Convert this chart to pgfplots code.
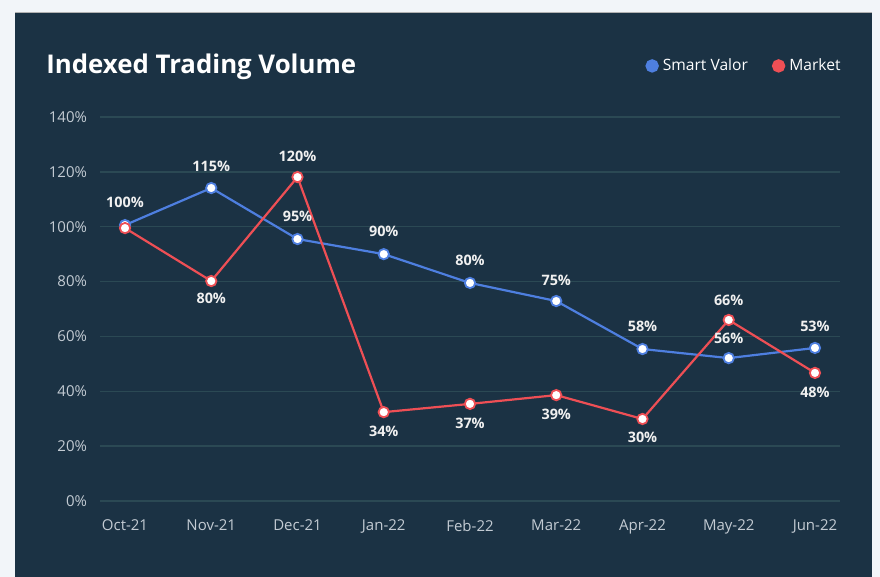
\documentclass[border=0pt]{standalone}
\usepackage{fontspec}
\setmainfont{Open Sans}
\usepackage{pgfplots}
\pgfplotsset{compat=1.18}
\definecolor{outerbg}{HTML}{F2F5F9}
\definecolor{panel}{HTML}{1B3244}
\definecolor{gridc}{HTML}{2B4954}
\definecolor{tickc}{HTML}{C3CBD3}
\definecolor{sv}{HTML}{4E7FE0}
\definecolor{mk}{HTML}{EE4F55}
\tikzset{lab/.style={text=white!94!black, font=\bfseries\fontsize{7.2}{9}\selectfont, anchor=center, inner sep=0pt}}
\begin{document}
\begin{tikzpicture}[x=1pt,y=1pt]
\fill[outerbg] (0,0) rectangle (440,288.5);
\useasboundingbox (0,0) rectangle (440,288.5);
\fill[panel] (7.5,0) rectangle (436,282.5);
\draw[gray!60, line width=0.4pt] (7.5,282.5) -- (436,282.5);
\node[anchor=base west, text=white, inner sep=0pt, font=\bfseries\fontsize{12.9}{15}\selectfont] at (23,251.5) {Indexed Trading Volume};
\begin{axis}[
  at={(50pt,38pt)}, anchor=south west,
  width=370pt, height=192pt, scale only axis,
  xmin=-0.29, xmax=8.29, ymin=0, ymax=140,
  axis line style={draw=none},
  major tick length=0pt,
  ymajorgrids, grid style={gridc, line width=0.7pt},
  xtick={0,...,8},
  xticklabels={Oct-21,Nov-21,Dec-21,Jan-22,Feb-22,Mar-22,Apr-22,May-22,Jun-22},
  ytick={0,20,...,140},
  yticklabels={0\%,20\%,40\%,60\%,80\%,100\%,120\%,140\%},
  tick label style={text=tickc, font=\fontsize{7.5}{9}\selectfont},
  xticklabel style={yshift=-6pt},
  yticklabel style={xshift=-3pt},
  clip=false,
  legend style={at={(1,1.133)}, anchor=east, xshift=2.5pt, draw=none, fill=none, text=white,
    font=\fontsize{7.8}{9}\selectfont, inner sep=0pt,
    /tikz/every even column/.append style={column sep=10pt}},
  legend columns=2,
  legend image code/.code={\fill[#1] (3pt,0pt) circle (2.8pt);},
]
\addplot[sv, line width=1.1pt, mark=*, mark size=2.6pt, mark options={fill=white, draw=sv, line width=0.9pt}]
  coordinates {(0,100.6) (1,114.1) (2,95.5) (3,90.0) (4,79.5) (5,72.9) (6,55.4) (7,52.1) (8,55.8)};
\addlegendentry{Smart Valor}
\addplot[mk, line width=1.1pt, mark=*, mark size=2.6pt, mark options={fill=white, draw=mk, line width=0.9pt}]
  coordinates {(0,99.5) (1,80.2) (2,118.1) (3,32.4) (4,35.4) (5,38.6) (6,29.9) (7,66.0) (8,46.7)};
\addlegendentry{Market}
% Smart Valor labels
\node[lab] at (axis cs:0,109.0) {100\%};
\node[lab] at (axis cs:1,122.1) {115\%};
\node[lab] at (axis cs:2,103.9) {95\%};
\node[lab] at (axis cs:3,98.4) {90\%};
\node[lab] at (axis cs:4,87.9) {80\%};
\node[lab] at (axis cs:5,80.6) {75\%};
\node[lab] at (axis cs:6,63.8) {58\%};
\node[lab] at (axis cs:7,59.4) {56\%};
\node[lab] at (axis cs:8,63.8) {53\%};
% Market labels
\node[lab] at (axis cs:1,74.0) {80\%};
\node[lab] at (axis cs:2,125.8) {120\%};
\node[lab] at (axis cs:3,25.5) {34\%};
\node[lab] at (axis cs:4,28.4) {37\%};
\node[lab] at (axis cs:5,31.7) {39\%};
\node[lab] at (axis cs:6,23.3) {30\%};
\node[lab] at (axis cs:7,73.3) {66\%};
\node[lab] at (axis cs:8,39.7) {48\%};
\end{axis}
\end{tikzpicture}
\end{document}
